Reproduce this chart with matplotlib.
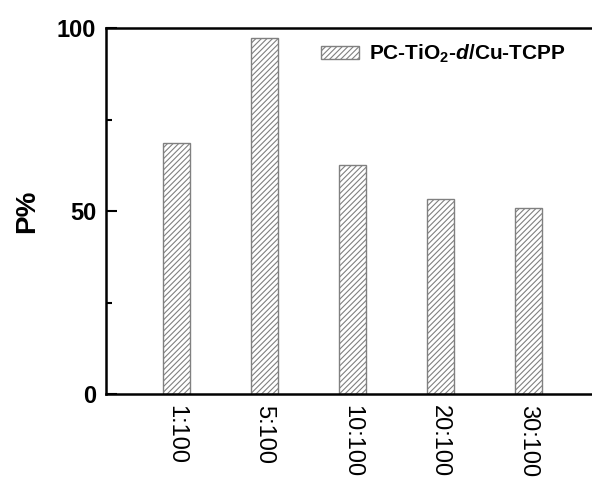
import matplotlib
matplotlib.use('Agg')
import matplotlib.pyplot as plt
import numpy as np

ratios = ['1:100', '5:100', '10:100', '20:100', '30:100']
p_values = [68.5, 97.4, 62.6, 53.2, 50.9]

plt.rcParams['font.family'] = 'Liberation Sans'
plt.rcParams['mathtext.fontset'] = 'custom'
plt.rcParams['mathtext.rm'] = 'Liberation Sans:bold'
plt.rcParams['mathtext.bf'] = 'Liberation Sans:bold'
plt.rcParams['mathtext.it'] = 'Liberation Sans:bold:italic'
plt.rcParams['hatch.color'] = '#707070'
plt.rcParams['hatch.linewidth'] = 0.8

fig = plt.figure(figsize=(5.92, 4.83), dpi=100)
ax = fig.add_axes([0.179, 0.184, 0.823, 0.758])

x = np.arange(1, len(ratios) + 1)
ax.bar(x, p_values, width=0.31, color='white', edgecolor='#808080',
       linewidth=1.0, hatch='//////', label=r'PC-TiO$_{2}$-$\mathit{d}$/Cu-TCPP')

ax.set_xlim(0.195, 5.74)
ax.set_ylim(0, 100)
ax.set_xticks(x)
ax.set_xticklabels(ratios, rotation=-90, fontsize=17)
ax.set_yticks([0, 50, 100])
ax.set_yticks([25, 75], minor=True)
for lab in ax.get_yticklabels():
    lab.set_fontweight('bold')
    lab.set_fontsize(17)
ax.tick_params(axis='y', which='major', direction='in', length=8, width=1.5, pad=7)
ax.tick_params(axis='y', which='minor', direction='in', length=4, width=1.5)
ax.tick_params(axis='x', length=0, pad=8)
ax.set_ylabel('P%', fontsize=20, fontweight='bold', labelpad=12)

for side in ['left', 'bottom', 'top']:
    ax.spines[side].set_linewidth(1.8)
ax.spines['right'].set_visible(False)

ax.legend(loc='upper right', frameon=False, handlelength=1.8,
          handleheight=0.6, handletextpad=0.5, borderaxespad=0.3,
          bbox_to_anchor=(0.974, 1.0), prop={'weight': 'bold', 'size': 15})

fig.savefig('out.png', dpi=100)
